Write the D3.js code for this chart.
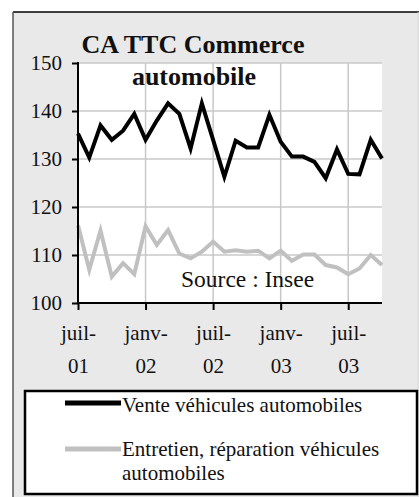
<!DOCTYPE html>
<html>
<head>
<meta charset="utf-8">
<script src="https://cdn.jsdelivr.net/npm/d3@7"></script>
<style>
  html, body { margin: 0; padding: 0; background: #fff; }
  .axis path, .axis line { stroke: #000; stroke-width: 2px; }
  .axis text { font-size: 21px; fill: #111; }
  .grid line { stroke: #c8c8c8; stroke-width: 1.5px; }
</style>
</head>
<body>
<div id="chart"></div>
<script>
// months from juil-01 to oct-03
const months = ['2001-07','2001-08','2001-09','2001-10','2001-11','2001-12',
  '2002-01','2002-02','2002-03','2002-04','2002-05','2002-06',
  '2002-07','2002-08','2002-09','2002-10','2002-11','2002-12',
  '2003-01','2003-02','2003-03','2003-04','2003-05','2003-06',
  '2003-07','2003-08','2003-09','2003-10'];

const vente = [135.3, 130.3, 137, 134, 135.9, 139.4,
  134, 138, 141.6, 139.4, 132.2, 141.6,
  134, 126.3, 133.8, 132.4, 132.4, 139.2,
  133.6, 130.5, 130.5, 129.4, 126, 132,
  126.9, 126.8, 134, 130.1];

const entretien = [116.2, 106.9, 115.1, 105.5, 108.3, 106,
  116, 112.1, 115.2, 110.3, 109.3, 110.7,
  112.8, 110.7, 111, 110.7, 110.9, 109.3,
  110.9, 108.8, 110.1, 110.1, 107.9, 107.4,
  106, 107.2, 110, 107.9];

const xTicks = ['2001-07','2002-01','2002-07','2003-01','2003-07'];
const xTickLabels = [['juil-','01'],['janv-','02'],['juil-','02'],['janv-','03'],['juil-','03']];
const yTicks = [100, 110, 120, 130, 140, 150];

const seriesNames = ['Vente véhicules automobiles', 'Entretien, réparation véhicules automobiles'];
const seriesColors = ['#000000', '#c0c0c0'];

const FONT = "'Liberation Serif', 'Times New Roman', 'DejaVu Serif', serif";

const width = 419, height = 497;
const margin = { top: 63, right: 37, bottom: 194, left: 78 };
const plotW = width - margin.left - margin.right;
const plotH = height - margin.top - margin.bottom;

const svg = d3.select('#chart').append('svg')
  .attr('width', width)
  .attr('height', height)
  .style('display', 'block')
  .style('font-family', FONT);

// outer chart area
svg.append('rect')
  .attr('x', 13).attr('y', 12)
  .attr('width', width - 13).attr('height', height - 12)
  .attr('fill', '#e9e9e9');
svg.append('line').attr('x1', 13).attr('x2', width).attr('y1', 12).attr('y2', 12)
  .attr('stroke', '#000').attr('stroke-width', 1.5);
svg.append('line').attr('x1', 13).attr('x2', 13).attr('y1', 12).attr('y2', height)
  .attr('stroke', '#555').attr('stroke-width', 1.5);
svg.append('line').attr('x1', width - 1).attr('x2', width - 1).attr('y1', 12).attr('y2', height)
  .attr('stroke', '#d8d8d8').attr('stroke-width', 1);

const g = svg.append('g')
  .attr('transform', 'translate(' + margin.left + ',' + margin.top + ')');

const xScale = d3.scalePoint().domain(months).range([0, plotW]);
const yScale = d3.scaleLinear().domain([100, 150]).range([plotH, 0]);

g.append('rect').attr('width', plotW).attr('height', plotH).attr('fill', '#fff');

// grid
g.append('g').attr('class', 'grid')
  .selectAll('line.h').data(yTicks.slice(1)).join('line')
  .attr('x1', 0).attr('x2', plotW)
  .attr('y1', d => yScale(d)).attr('y2', d => yScale(d));
g.append('g').attr('class', 'grid')
  .selectAll('line.v').data(xTicks.slice(1)).join('line')
  .attr('x1', d => xScale(d)).attr('x2', d => xScale(d))
  .attr('y1', 0).attr('y2', plotH);

// title
g.append('text')
  .attr('x', 115).attr('y', -10)
  .attr('text-anchor', 'middle')
  .attr('fill', '#111')
  .style('font-family', FONT)
  .style('font-size', '26px').style('font-weight', 'bold')
  .text('CA TTC Commerce');
g.append('text')
  .attr('x', 116).attr('y', 22)
  .attr('text-anchor', 'middle')
  .attr('fill', '#111')
  .style('font-family', FONT)
  .style('font-size', '26px').style('font-weight', 'bold')
  .text('automobile');

g.append('text')
  .attr('x', 103).attr('y', 224)
  .attr('fill', '#111')
  .style('font-family', FONT)
  .style('font-size', '23.5px')
  .text('Source :  Insee');

// series
const line = d3.line()
  .x((d, i) => xScale(months[i]))
  .y(d => yScale(d));

[vente, entretien].forEach((data, i) => {
  g.append('path')
    .datum(data)
    .attr('fill', 'none')
    .attr('stroke', seriesColors[i])
    .attr('stroke-width', 4)
    .attr('stroke-linejoin', 'miter')
    .attr('d', line);
});

// axes
const yAxis = d3.axisLeft(yScale).tickValues(yTicks).tickSize(6).tickSizeOuter(0).tickPadding(10);
const yg = g.append('g').attr('class', 'axis').call(yAxis);
yg.attr('font-family', null).attr('font-size', null);
yg.select('.domain').attr('d', 'M0,' + (plotH + 1) + 'V-1');
yg.selectAll('line').attr('x1', -6).attr('x2', 1);
yg.selectAll('text').style('font-family', FONT);

const xAxis = d3.axisBottom(xScale).tickValues(xTicks).tickSize(7).tickSizeOuter(0).tickFormat('');
const xg = g.append('g').attr('class', 'axis')
  .attr('transform', 'translate(0,' + plotH + ')')
  .call(xAxis);
xg.attr('font-family', null).attr('font-size', null);
xg.select('.domain').attr('d', 'M-1,0H' + plotW);
xg.selectAll('.tick').each(function (d, i) {
  const t = d3.select(this).append('text')
    .attr('text-anchor', 'middle')
    .attr('fill', '#111')
    .style('font-family', FONT);
  t.append('tspan').attr('x', 0).attr('y', 37).text(xTickLabels[i][0]);
  t.append('tspan').attr('x', 0).attr('y', 70).text(xTickLabels[i][1]);
});

// legend
const legend = svg.append('g');
legend.append('rect')
  .attr('x', 25).attr('y', 391)
  .attr('width', 392).attr('height', 103)
  .attr('fill', '#fff').attr('stroke', '#000').attr('stroke-width', 2.5);
const legendRows = [
  { y: 403, dy: 9, lines: [seriesNames[0]] },
  { y: 449, dy: 7, lines: ['Entretien, réparation véhicules', 'automobiles'] }
];
legendRows.forEach((r, i) => {
  legend.append('line')
    .attr('x1', 65).attr('x2', 121)
    .attr('y1', r.y).attr('y2', r.y)
    .attr('stroke', seriesColors[i]).attr('stroke-width', 5);
  const t = legend.append('text')
    .style('font-family', FONT)
    .style('font-size', '21px').attr('fill', '#111');
  r.lines.forEach((l, j) => {
    t.append('tspan').attr('x', 122).attr('y', r.y + r.dy + j * 24).text(l);
  });
});
</script>
</body>
</html>
